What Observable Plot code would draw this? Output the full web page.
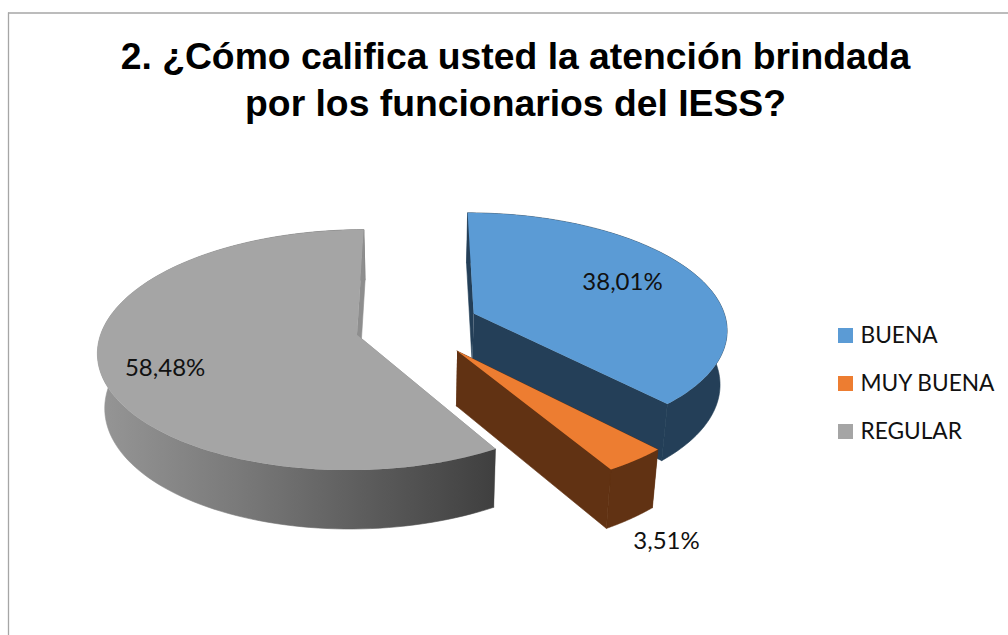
<!DOCTYPE html>
<html lang="es">
<head>
<meta charset="utf-8">
<script src="https://cdn.jsdelivr.net/npm/d3@7"></script>
<script src="https://cdn.jsdelivr.net/npm/@observablehq/plot@0.6"></script>
<style>
  html, body { margin: 0; padding: 0; background: #fff; }
  svg { display: block; }
</style>
</head>
<body>
<script>
// Survey results
const titleLines = ["2. ¿Cómo califica usted la atención brindada", "por los funcionarios del IESS?"];
const categories = ["BUENA", "MUY BUENA", "REGULAR"];
const percentages = [38.01, 3.51, 58.48];

// Colours per slice: top face, outer rim, cut walls
const topColors = ["#5b9bd5", "#ed7d31", "#a5a5a5"];
const rimColors = ["#243f58", "#613213", "url(#rim-shade)"];
const wallColors = ["#243f58", "#613213", "#8e8e8e"];

// Camera and pie layout (R and r are the disc's half axes on screen)
const view = {cx: 418, cy: 329, R: 255, r: 117, persp: 0.125, depth: 54, floorScale: 0.977};

// How far each slice is pulled out of the pie, in disc radii
const sliceOffsets = [[0.22, 0.139], [0.148, -0.18], [-0.24, -0.045]];

// Where each value label sits: distance from the slice apex, plus a nudge
const labelRadius = [0.61, 1.2, 0.75];
const labelNudge = [[12, -7], [-10, 56], [0, 10]];

function project(X, Z, lower) {
  const s = 1 / (1 + view.persp * Z);
  const f = lower ? view.floorScale : 1;
  return {
    x: view.cx + view.R * X * s * f,
    y: view.cy - view.r * Z * s * f + (lower ? view.depth * s : 0)
  };
}

const total = d3.sum(percentages);
const turn = d3.cumsum(percentages).map((v) => (v / total) * 2 * Math.PI);
const slices = categories.map((category, i) => {
  const a0 = i ? turn[i - 1] : 0, a1 = turn[i], mid = (a0 + a1) / 2;
  const [ox, oz] = sliceOffsets[i];
  const at = (a, rho, lower) => project(ox + rho * Math.sin(a), oz + rho * Math.cos(a), lower);
  const arc = (lower) => d3.range(0, 1.0001, 1 / 120).map((t) => at(a0 + (a1 - a0) * t, 1, lower));
  const apex = (lower) => at(0, 0, lower);
  const [nx, ny] = labelNudge[i];
  const anchor = at(mid, labelRadius[i], false);
  return {
    category, i,
    top: [apex(false), ...arc(false)],
    rim: [...arc(false), ...arc(true).reverse()],
    wallStart: [apex(false), at(a0, 1, false), at(a0, 1, true), apex(true)],
    wallEnd: [apex(false), at(a1, 1, false), at(a1, 1, true), apex(true)],
    label: {x: anchor.x + nx, y: anchor.y + ny, text: percentages[i].toFixed(2).replace(".", ",") + "%"}
  };
});

// A hairline of the same paint closes the seams between adjoining faces
const face = (points, fill) =>
  Plot.line(points, {x: "x", y: "y", fill, stroke: fill, strokeWidth: 0.6, curve: "linear"});

// The far slice is painted first so the nearer ones overlap it
const paintOrder = [2, 0, 1];
const sliceMarks = paintOrder.flatMap((i) => {
  const s = slices[i];
  return [
    face(s.wallStart, wallColors[i]),
    face(s.rim, rimColors[i]),
    face(s.wallEnd, wallColors[i]),
    Plot.line(s.top.map((p) => ({...p, category: s.category})), {
      x: "x", y: "y", fill: "category", stroke: "none", curve: "linear"
    })
  ];
});

// Shading along the rim of the large slice
const rimGradient = () => {
  const g = d3.create("svg:linearGradient").attr("id", "rim-shade")
    .attr("x1", "0").attr("x2", "1").attr("y1", "0").attr("y2", "0");
  g.append("stop").attr("offset", "0").attr("stop-color", "#969696");
  g.append("stop").attr("offset", "0.35").attr("stop-color", "#7a7a7a");
  g.append("stop").attr("offset", "1").attr("stop-color", "#3f3f3f");
  const defs = d3.create("svg:defs");
  defs.append(() => g.node());
  return defs.node();
};

const legendTop = (i) => 328 + i * 48;

const chart = Plot.plot({
  width: 1008,
  height: 635,
  margin: 0,
  style: {background: "#fff", fontFamily: "Lato, sans-serif"},
  x: {domain: [0, 1008], axis: null},
  y: {domain: [635, 0], axis: null},
  color: {domain: categories, range: topColors},
  marks: [
    rimGradient,
    Plot.ruleY([12.5], {x1: 8, x2: 1008, stroke: "#a6a6a6", strokeWidth: 1.3}),
    Plot.ruleX([8], {y1: 12.5, y2: 635, stroke: "#a6a6a6", strokeWidth: 1.3}),
    Plot.text(titleLines, {
      x: 515,
      y: (d, i) => 57 + i * 47,
      text: (d) => d,
      fontFamily: "Liberation Sans, Arial, sans-serif",
      fontWeight: "bold",
      fontSize: 37.3,
      fill: "#000"
    }),
    ...sliceMarks,
    Plot.text(slices.map((s) => s.label), {
      x: "x", y: "y", text: "text", fontSize: 24, fill: "#111"
    }),
    Plot.rect(categories, {
      x1: 838,
      x2: 853,
      y1: (d, i) => legendTop(i),
      y2: (d, i) => legendTop(i) + 15,
      fill: (d) => d
    }),
    Plot.text(categories, {
      x: 860,
      y: (d, i) => legendTop(i) + 7.5,
      text: (d) => d,
      textAnchor: "start",
      fontSize: 22.7,
      fill: "#111"
    })
  ]
});
document.body.append(chart);
</script>
</body>
</html>
